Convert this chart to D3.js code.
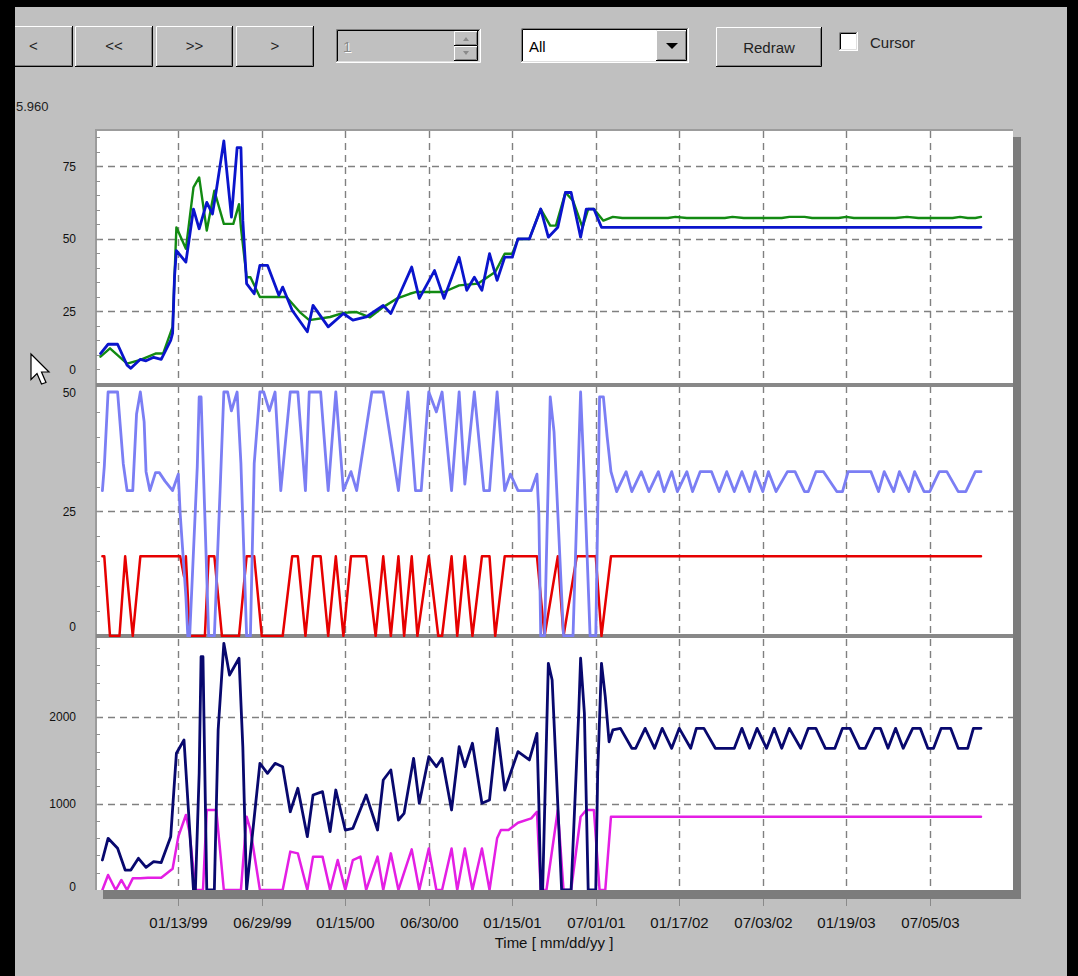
<!DOCTYPE html>
<html><head><meta charset="utf-8">
<script src="https://cdn.jsdelivr.net/npm/d3@7"></script>
<style>
html,body{margin:0;padding:0;background:#000;}
svg{display:block;}
text{font-family:"Liberation Sans",Arial,sans-serif;}
</style></head><body>
<svg id="chart" width="1078" height="976"></svg>
<script>
// ---- axis labels ----
const tickSamples = [42, 86, 130, 174, 218, 262, 306, 350, 394, 438];
const tickLabels = ["01/13/99","06/29/99","01/15/00","06/30/00","01/15/01","07/01/01","01/17/02","07/03/02","01/19/03","07/05/03"];
const topTicks = [0, 25, 50, 75];
const midTicks = [0, 25, 50];
const botTicks = [0, 1000, 2000];
const maxReadout = "5.960";

// ---- series: [sample, value] ----
const topBlue = [[1,10.5],[5,13.7],[10,13.7],[15,6.5],[17,5.4],[22,8.5],[25,8],[29,9.2],[33,8.5],[38,15],[39,17.5],[40,36.8],[41,46],[46,42],[50,60.3],[53,53.5],[57,62.6],[60,58.6],[62,66.6],[66,83.8],[67,77],[70,57.5],[73,81.5],[75,81.5],[76,56.3],[78,34.6],[82,31.1],[85,40.9],[89,40.9],[95,30.6],[97,33.4],[102,25.4],[110,18],[113,27.1],[121,19.7],[129,24.3],[134,22],[141,23.1],[150,27.1],[154,24.3],[158,30],[165,40.3],[169,29.5],[177,39.1],[182,29.5],[190,43.7],[194,32.3],[198,36.8],[202,32.3],[206,44.9],[210,35.7],[214,43.7],[218,43.7],[221,50],[227,50],[233,60.3],[237,50.6],[242,54],[246,66],[249,66],[254,50.6],[257,60.3],[261,60.3],[265,54],[465,54]];
const topGreen = [[1,9.4],[6,12.3],[15,7],[22,8.3],[30,10.5],[34,10.5],[39,19.7],[41,54],[46,46.6],[50,67.8],[53,71.2],[57,52.9],[61,66.6],[66,55.2],[71,55.2],[74,62],[75,54],[78,36.8],[80,36.8],[85,30],[99,30],[106,24.8],[111,22],[122,23.1],[129,24.5],[136,24.8],[143,23],[150,26.5],[157,29.4],[164,31.1],[167,31.7],[182,31.7],[190,34],[200,34.6],[209,38.6],[214,44.9],[218,44.9],[221,50],[227,50],[233,60.3],[238,54.6],[241,54.6],[246,66],[250,63.2],[255,54],[258,60.3],[261,60.3],[266,56.3],[271,57.6],[276,57.2],[300,57.2],[304,57.6],[310,57.2],[330,57.2],[334,57.6],[340,57.2],[360,57.2],[364,57.6],[372,57.6],[376,57.2],[390,57.2],[394,57.6],[398,57.2],[420,57.2],[426,57.6],[432,57.2],[450,57.2],[454,57.6],[458,57.2],[462,57.2],[465,57.6]];
const midBlue = [[2,29.2],[3,34],[5,49],[10,49],[13,34.6],[15,29.2],[18,29.2],[20,44.6],[22,49],[24,43],[25,33],[27,29.2],[30,32.8],[32,32.8],[35,31.1],[39,29.2],[42,32.5],[43,24.5],[46,7.9],[47,0],[48,0],[52,34],[53,48],[54,48],[58,0],[61,0],[64,29],[66,49],[68,49],[70,45.2],[73,49],[75,34.6],[78,0],[80,0],[82,34.6],[85,49],[87,49],[90,45.2],[93,49],[96,29.2],[101,49],[105,49],[109,29.2],[111,49],[117,49],[121,29.2],[125,49],[129,29.2],[133,33],[136,29.2],[144,49],[150,49],[158,29.2],[163,49],[167,29.2],[170,29.2],[174,49],[178,45],[181,49],[186,29.2],[190,49],[193,30.5],[198,49],[203,29.2],[206,29.2],[210,49],[214,29.2],[217,32.5],[221,29.2],[228,29.2],[231,32.5],[232,24.5],[233,0],[235,0],[238,48],[240,41],[245,0],[250,0],[254,49],[256,31],[259,0],[262,0],[264,48],[266,48],[268,40],[270,33],[273,29],[278,33],[281,29],[286,33],[290,29],[295,33],[298,29],[302,33],[305,29],[310,33],[313,29],[317,33],[323,33],[327,29],[331,33],[335,29],[339,33],[343,29],[346,33],[350,29],[353,33],[357,29],[363,33],[367,33],[372,29],[374,29],[378,33],[382,33],[389,29],[392,29],[395,33],[407,33],[411,29],[414,33],[419,29],[422,33],[427,29],[430,33],[435,29],[438,29],[443,33],[447,33],[453,29],[457,29],[462,33],[465,33]];
const midRed = [[2,16],[3,16],[6,0],[11,0],[14,16],[18,0],[22,16],[43,16],[45,12],[46,16],[48,0],[56,0],[58,16],[61,16],[65,0],[74,0],[78,16],[82,16],[86,0],[97,0],[102,16],[105,16],[109,0],[113,16],[117,16],[121,0],[125,16],[129,0],[133,16],[141,16],[146,0],[150,16],[154,0],[158,16],[161,0],[165,16],[168,0],[174,16],[179,0],[181,0],[186,16],[189,0],[193,16],[197,0],[202,16],[206,16],[209,0],[214,16],[231,16],[235,0],[242,16],[245,0],[252,16],[262,16],[265,0],[270,16],[465,16]];
const botNavy = [[2,347],[5,598],[10,483],[14,231],[17,231],[21,367],[25,262],[29,328],[33,318],[38,617],[41,1582],[45,1736],[46,1389],[50,0],[51,0],[53,1350],[54,2700],[55,2700],[57,0],[61,0],[63,1852],[66,2855],[69,2488],[74,2682],[76,1659],[78,0],[85,1466],[89,1350],[93,1466],[97,1427],[101,906],[105,1177],[110,617],[113,1100],[118,1138],[122,675],[125,1157],[130,694],[134,714],[141,1100],[147,694],[150,1273],[154,1389],[158,810],[161,887],[166,1524],[169,1003],[174,1543],[178,1427],[181,1524],[186,926],[190,1659],[193,1427],[197,1698],[202,1003],[206,1042],[210,1871],[214,1157],[221,1601],[227,1505],[231,1813],[232,1003],[233,0],[234,0],[237,2624],[239,2431],[241,1466],[244,0],[249,0],[253,2045],[254,2682],[256,2045],[258,0],[262,0],[263,1350],[265,2624],[267,2237],[269,1716],[271,1852],[275,1871],[281,1640],[283,1640],[288,1871],[293,1640],[297,1871],[302,1640],[306,1871],[312,1640],[315,1871],[319,1871],[325,1640],[335,1640],[339,1871],[343,1640],[347,1871],[352,1640],[356,1871],[360,1640],[364,1871],[370,1640],[374,1871],[378,1871],[383,1640],[388,1640],[392,1871],[396,1871],[401,1640],[404,1640],[409,1871],[412,1871],[416,1640],[420,1871],[424,1640],[429,1871],[433,1871],[437,1640],[440,1640],[444,1871],[449,1871],[453,1640],[458,1640],[461,1871],[465,1871]];
const botMagenta = [[2,0],[5,174],[9,0],[12,116],[15,0],[18,135],[22,135],[26,143],[33,143],[39,247],[42,617],[46,868],[48,656],[51,0],[55,0],[57,926],[62,926],[66,0],[75,0],[78,848],[80,700],[85,0],[97,0],[101,444],[105,424],[110,0],[113,386],[118,386],[122,0],[126,347],[130,0],[134,347],[138,386],[141,0],[147,386],[150,0],[154,424],[158,0],[165,470],[169,0],[174,480],[178,0],[181,0],[186,480],[189,0],[193,480],[197,0],[202,480],[206,0],[210,598],[212,694],[216,694],[221,779],[228,829],[231,906],[233,0],[236,0],[242,926],[245,0],[249,0],[254,848],[257,926],[261,926],[264,0],[267,0],[270,848],[465,848]];

const svg = d3.select("#chart");
const W = 1078, H = 976;

// window background
svg.append("rect").attr("width", W).attr("height", H).attr("fill", "#000");
svg.append("rect").attr("x", 15).attr("y", 7).attr("width", 1052).attr("height", 969).attr("fill", "#c0c0c0");

// ---- classic 3D controls ----
const ui = svg.append("g");
function raised(x, y, w, h) {
  ui.append("rect").attr("x", x).attr("y", y).attr("width", w).attr("height", h).attr("fill", "#c0c0c0");
  ui.append("path").attr("d", `M${x},${y+h-0.5}H${x+w-0.5}V${y}`).attr("stroke", "#000").attr("fill", "none");
  ui.append("path").attr("d", `M${x+0.5},${y+h-1}V${y+0.5}H${x+w-1}`).attr("stroke", "#fff").attr("fill", "none");
  ui.append("path").attr("d", `M${x+1.5},${y+h-1.5}H${x+w-1.5}V${y+1.5}`).attr("stroke", "#808080").attr("fill", "none");
}
function sunken(x, y, w, h, fill) {
  ui.append("rect").attr("x", x).attr("y", y).attr("width", w).attr("height", h).attr("fill", fill);
  ui.append("path").attr("d", `M${x+0.5},${y+h}V${y+0.5}H${x+w}`).attr("stroke", "#808080").attr("fill", "none");
  ui.append("path").attr("d", `M${x+1.5},${y+h-1}V${y+1.5}H${x+w-1}`).attr("stroke", "#000").attr("fill", "none");
  ui.append("path").attr("d", `M${x},${y+h-0.5}H${x+w-0.5}V${y}`).attr("stroke", "#fff").attr("fill", "none");
  ui.append("path").attr("d", `M${x+1},${y+h-1.5}H${x+w-1.5}V${y+1}`).attr("stroke", "#dfdfdf").attr("fill", "none");
}
function label(x, y, t, opts = {}) {
  return ui.append("text").attr("x", x).attr("y", y).text(t)
    .attr("font-size", opts.size || 15).attr("fill", opts.fill || "#000")
    .attr("text-anchor", opts.anchor || "middle");
}
const navButtons = [["<", -6, 79], ["<<", 75, 78], [">>", 156, 77], [">", 236, 78]];
navButtons.forEach(([t, x, w]) => { raised(x, 26, w, 41); label(x + w / 2, 51, t, { fill: "#222" }); });

// page spinner (disabled)
sunken(336, 29, 145, 34, "#c0c0c0");
label(343, 52, "1", { anchor: "start", fill: "#fff" }).attr("dx", 1).attr("dy", 1);
label(343, 52, "1", { anchor: "start", fill: "#8a8a8a" });
raised(454, 31, 24, 15);
raised(454, 46, 24, 15);
ui.append("path").attr("d", "M463,41L466,37L469,41Z").attr("fill", "#8a8a8a");
ui.append("path").attr("d", "M463,51L466,55L469,51Z").attr("fill", "#8a8a8a");

// series selector
sunken(521, 28, 168, 35, "#fff");
label(529, 52, "All", { anchor: "start" });
raised(656, 30, 31, 31);
ui.append("path").attr("d", "M666,43L678,43L672,49Z").attr("fill", "#000");

raised(716, 27, 106, 40);
label(769, 53, "Redraw", { fill: "#222" });
sunken(839, 32, 19, 19, "#fff");
label(870, 48, "Cursor", { anchor: "start", fill: "#222" });

label(16, 111, maxReadout, { anchor: "start", size: 13, fill: "#222" });

// ---- plot frames ----
const left = 96, right = 1013;
const panels = [
  { top: 131, bottom: 384, vMax: 87.2, ticks: topTicks, clipTop: 131, clipBot: 385, labelPad: 14 },
  { top: 386, bottom: 636, vMax: 50.2, ticks: midTicks, clipTop: 386, clipBot: 637, labelPad: 9 },
  { top: 639, bottom: 890, vMax: 2905, ticks: botTicks, clipTop: 639, clipBot: 890, labelPad: 3 }
];
panels.forEach(p => { p.y = d3.scaleLinear().domain([0, p.vMax]).range([p.bottom, p.top]); });

const x = d3.scaleLinear().domain([0, 465]).range([98.6, 981]);

const plot = svg.append("g");
// shadow
plot.append("rect").attr("x", 1013).attr("y", 137).attr("width", 8).attr("height", 762).attr("fill", "#7c7c7c");
plot.append("rect").attr("x", 103).attr("y", 890).attr("width", 918).attr("height", 9).attr("fill", "#7c7c7c");
// white area
plot.append("rect").attr("x", left).attr("y", 130).attr("width", right - left).attr("height", 760).attr("fill", "#fff");

const defs = svg.append("defs");
panels.forEach((p, i) => {
  defs.append("clipPath").attr("id", "clip" + i).append("rect")
    .attr("x", left + 1).attr("y", p.clipTop).attr("width", right - left - 1).attr("height", p.clipBot - p.clipTop);
});

// grid
const grid = plot.append("g").attr("stroke", "#808080").attr("stroke-width", 1.4).attr("stroke-dasharray", "7,5").attr("fill", "none");
panels.forEach(p => {
  tickSamples.forEach(s => {
    grid.append("line").attr("x1", Math.round(x(s)) + 0.5).attr("x2", Math.round(x(s)) + 0.5).attr("y1", p.top).attr("y2", p.bottom);
  });
  p.ticks.filter(v => v > 0 && p.y(v) > p.top + 4).forEach(v => {
    grid.append("line").attr("x1", left).attr("x2", right).attr("y1", Math.round(p.y(v)) + 0.5).attr("y2", Math.round(p.y(v)) + 0.5);
  });
});

// frame lines and panel separators
plot.append("rect").attr("x", left - 1).attr("y", 129).attr("width", right - left + 1).attr("height", 2).attr("fill", "#9c9c9c");
plot.append("rect").attr("x", left - 1).attr("y", 129).attr("width", 2).attr("height", 761).attr("fill", "#9c9c9c");
plot.append("rect").attr("x", left).attr("y", 383).attr("width", right - left).attr("height", 4).attr("fill", "#888");
plot.append("rect").attr("x", left).attr("y", 634).attr("width", right - left).attr("height", 4).attr("fill", "#888");

// minor ticks on the left edge
const minorSteps = [5, 5, 200];
panels.forEach((p, i) => {
  d3.range(0, p.vMax, minorSteps[i]).forEach(v => {
    const yy = Math.round(p.y(v)) + 0.5;
    if (yy > p.top + 2 && yy < p.bottom - 2)
      plot.append("line").attr("x1", left).attr("x2", left + 4).attr("y1", yy).attr("y2", yy).attr("stroke", "#909090");
  });
});

// series
function drawSeries(i, data, color, width) {
  const p = panels[i];
  plot.append("path").datum(data)
    .attr("clip-path", `url(#clip${i})`)
    .attr("fill", "none").attr("stroke", color).attr("stroke-width", width)
    .attr("stroke-linejoin", "round").attr("stroke-linecap", "round")
    .attr("d", d3.line().x(d => x(d[0])).y(d => p.y(d[1])));
}
drawSeries(0, topGreen, "#128a12", 2.4);
drawSeries(0, topBlue, "#0a14cc", 2.8);
drawSeries(1, midRed, "#e60000", 2.5);
drawSeries(1, midBlue, "#7b7ef4", 2.8);
drawSeries(2, botMagenta, "#e41ee4", 2.5);
drawSeries(2, botNavy, "#08086e", 2.8);

// y labels
const ylab = svg.append("g").attr("font-size", 12).attr("text-anchor", "end").attr("fill", "#111");
panels.forEach(p => {
  p.ticks.forEach(v => {
    const yy = Math.max(p.top + 7, Math.min(p.y(v), p.bottom - p.labelPad));
    ylab.append("text").attr("x", 76).attr("y", yy).attr("dy", "0.35em").text(d3.format("d")(v));
  });
});

// x axis
const xa = svg.append("g").attr("fill", "#111");
tickSamples.forEach((s, k) => {
  const xx = Math.round(x(s)) + 0.5;
  xa.append("line").attr("x1", xx).attr("x2", xx).attr("y1", 899).attr("y2", 906).attr("stroke", "#8a8a8a");
  xa.append("text").attr("x", xx).attr("y", 928).attr("text-anchor", "middle").attr("font-size", 15).text(tickLabels[k]);
});
xa.append("text").attr("x", 554).attr("y", 948).attr("text-anchor", "middle").attr("font-size", 15).text("Time [ mm/dd/yy ]");

// mouse pointer
const arrow = [[0,0],[0,17],[4,13],[7,20],[10,19],[7,12],[12,12]];
svg.append("path").attr("d", "M" + arrow.map(p => [31 + p[0] * 1.5, 354 + p[1] * 1.5].join(",")).join("L") + "Z")
  .attr("fill", "#fff").attr("stroke", "#000").attr("stroke-width", 1.2);

// screen edges
svg.append("rect").attr("x", 0).attr("y", 0).attr("width", 15).attr("height", H).attr("fill", "#000");
svg.append("rect").attr("x", 0).attr("y", 0).attr("width", W).attr("height", 7).attr("fill", "#000");
svg.append("rect").attr("x", 1067).attr("y", 0).attr("width", 11).attr("height", H).attr("fill", "#000");
</script></body></html>
